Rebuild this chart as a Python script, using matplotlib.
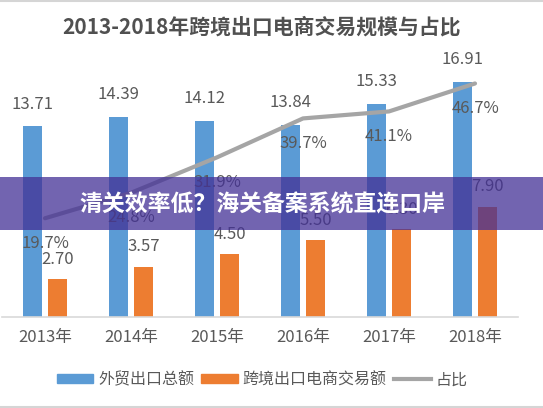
import numpy as np
import matplotlib.pyplot as plt
from matplotlib.patches import Rectangle
from matplotlib.lines import Line2D

plt.rcParams['font.family'] = ['Noto Sans CJK SC', 'DejaVu Sans']

years = ['2013年', '2014年', '2015年', '2016年', '2017年', '2018年']
export_total = [13.71, 14.39, 14.12, 13.84, 15.33, 16.91]
ecommerce = [2.70, 3.57, 4.50, 5.50, 6.30, 7.90]
share = [19.7, 24.8, 31.9, 39.7, 41.1, 46.7]

blue = '#5B9BD5'
orange = '#ED7D31'
grey_line = '#A5A5A5'
txt = '#595959'

W, H = 543, 408
fig = plt.figure(figsize=(W / 100, H / 100), dpi=100)
fig.patch.set_facecolor('white')

# 坐标区 (像素换算)
ax = fig.add_axes([2 / W, (H - 316.6) / H, 516 / W, 249.6 / H])
ax2 = ax.twinx()

x = np.arange(len(years))
off = 0.145
bw = 0.23
ax.bar(x - off, export_total, bw, color=blue, zorder=2)
ax.bar(x + off, ecommerce, bw, color=orange, zorder=2)

for i, v in enumerate(export_total):
    ax.annotate(f'{v:.2f}', (x[i] - off, v), xytext=(0, 16), textcoords='offset points',
                ha='center', va='center', fontsize=12, color=txt)
for i, v in enumerate(ecommerce):
    ax.annotate(f'{v:.2f}', (x[i] + off, v), xytext=(0, 14.5), textcoords='offset points',
                ha='center', va='center', fontsize=12, color=txt)

ax2.plot(x, share, color=grey_line, lw=3, solid_capstyle='round', zorder=3)
for i, v in enumerate(share):
    ax2.annotate(f'{v}%', (x[i], v), xytext=(0, -18), textcoords='offset points',
                 ha='center', va='center', fontsize=12, color=txt, zorder=5)

ax.set_xlim(-0.5, 5.5)
ax.set_ylim(0, 18)
ax2.set_ylim(0, 50)
ax2.set_zorder(ax.get_zorder() + 1)
ax2.patch.set_visible(False)

for a in (ax, ax2):
    for s in ['top', 'right', 'left']:
        a.spines[s].set_visible(False)
    a.set_yticks([])
ax2.spines['bottom'].set_visible(False)
ax.spines['bottom'].set_color('#D9D9D9')
ax.spines['bottom'].set_linewidth(1.2)

ax.set_xticks(x)
ax.set_xticklabels(years, fontsize=12, color=txt)
ax.tick_params(axis='x', length=0, pad=9)

fig.text(262 / W, 1 - 27 / H, '2013-2018年跨境出口电商交易规模与占比', ha='center', va='center',
         fontsize=15, fontweight='bold', color='#505050')

handles = [Rectangle((0, 0), 1, 1, color=blue), Rectangle((0, 0), 1, 1, color=orange),
           Line2D([], [], color=grey_line, lw=3)]
fig.legend(handles, ['外贸出口总额', '跨境出口电商交易额', '占比'], loc='center',
           bbox_to_anchor=(262 / W, 1 - 380 / H), ncol=3, frameon=False, fontsize=11.5,
           labelcolor=txt, handlelength=2.3, handleheight=0.5, handletextpad=0.3,
           columnspacing=0.45)

# 图片边框
fig.add_artist(Line2D([0, 1], [1 - 1 / H, 1 - 1 / H], color='#D5D5D5', lw=1.5))
fig.add_artist(Line2D([0, 1], [1 - 406.5 / H, 1 - 406.5 / H], color='#D5D5D5', lw=1.5))

# 横幅
fig.add_artist(Rectangle((0, (H - 230) / H), 1, 53 / H, transform=fig.transFigure,
                         facecolor='#433096', alpha=0.75, edgecolor='none', zorder=10))
fig.text(262 / W, 1 - 205 / H, '清关效率低？海关备案系统直连口岸', ha='center', va='center',
         fontsize=16.5, fontweight='bold', color='white', zorder=11)

fig.savefig('out.png', dpi=100)
